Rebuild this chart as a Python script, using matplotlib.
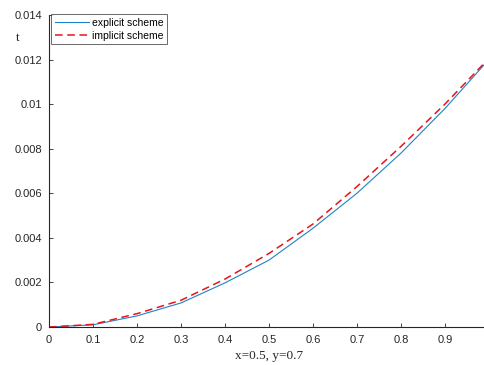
import matplotlib
matplotlib.use("Agg")
import matplotlib.pyplot as plt

x = [0, 0.1, 0.2, 0.3, 0.4, 0.5, 0.6, 0.7, 0.8, 0.9, 1.0]
explicit = [0, 0.0001, 0.0005, 0.00108, 0.00198, 0.0030, 0.00443, 0.0060, 0.0078, 0.0098, 0.0120]
implicit = [0, 0.00012, 0.0006, 0.0012, 0.00215, 0.0033, 0.00462, 0.0063, 0.0081, 0.0100, 0.01205]
xticks = [0, 0.1, 0.2, 0.3, 0.4, 0.5, 0.6, 0.7, 0.8, 0.9, 1]
yticks = [0, 0.002, 0.004, 0.006, 0.008, 0.01, 0.012, 0.014]

plt.rcParams['font.family'] = ['Liberation Sans', 'DejaVu Sans']
fig = plt.figure(figsize=(4.85, 3.65), dpi=100)
ax = fig.add_axes([0.101, 0.104, 0.907, 0.855])
ax.plot(x, explicit, color='#1F82C8', lw=0.8, label='explicit scheme')
ax.plot(x, implicit, color='#E8141A', lw=1.1, ls=(0, (5, 3)), label='implicit scheme')
ax.set_xlim(0, 1)
ax.set_ylim(0, 0.014)
ax.set_xticks(xticks)
ax.set_xticklabels(['0', '0.1', '0.2', '0.3', '0.4', '0.5', '0.6', '0.7', '0.8', '0.9', '1'])
ax.set_yticks(yticks)
ax.set_yticklabels(['0', '0.002', '0.004', '0.006', '0.008', '0.01', '0.012', '0.014'])
ax.spines['top'].set_visible(False)
ax.spines['right'].set_visible(False)
ax.tick_params(direction='in', length=3, labelsize=8, color='#262626', labelcolor='#262626', width=0.6)
ax.tick_params(axis='x', pad=6)
ax.tick_params(axis='y', pad=5)
for s in ['left', 'bottom']:
    ax.spines[s].set_linewidth(0.8)
    ax.spines[s].set_color('#262626')
ax.set_xlabel('x=0.5, y=0.7', family=['Liberation Serif'], fontsize=9.5, labelpad=3, color='#262626')
fig.text(18/485, 1 - 38/365, 't', family=['Liberation Serif'], fontsize=9.5, ha='center', va='center', color='#262626')
leg = ax.legend(loc='upper left', bbox_to_anchor=(0.0, 1.01), fontsize=7.5, frameon=True, fancybox=False,
                edgecolor='#262626', borderpad=0.35, handlelength=3.3, labelspacing=0.3, handletextpad=0.3,
                borderaxespad=0.2)
leg.get_frame().set_linewidth(0.6)
fig.savefig('out.png', dpi=100)
